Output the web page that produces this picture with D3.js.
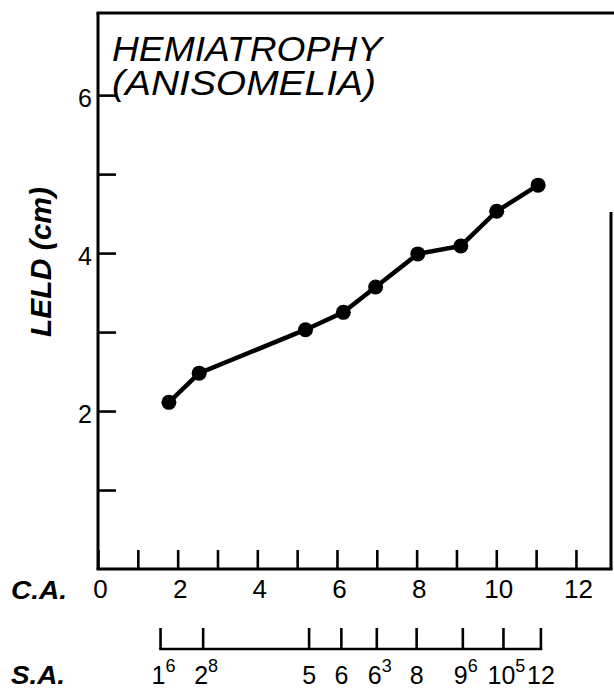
<!DOCTYPE html>
<html>
<head>
<meta charset="utf-8">
<script src="https://cdn.jsdelivr.net/npm/d3@7"></script>
<style>
  body { margin: 0; background: #fff; }
  svg { display: block; font-family: "Liberation Sans", Arial, sans-serif; }
</style>
</head>
<body>
<div id="container"></div>
<script>
/* CONSTANTS AND GLOBALS */
const width = 614,
  height = 691,
  margin = { top: 13, bottom: 122, left: 98, right: 3 };

// chronological age (C.A.) vs leg length discrepancy, one per visit
const caAge = [1.78, 2.54, 5.21, 6.16, 6.97, 8.03, 9.11, 10.01, 11.05];
const leld = [2.11, 2.48, 3.03, 3.25, 3.57, 3.99, 4.09, 4.53, 4.86];

// skeletal age (S.A.) scale: tick positions on the C.A. scale + labels (years, months as superscript)
const saPos = [1.57, 2.64, 5.30, 6.11, 7.00, 8.00, 9.16, 10.18, 11.12];
const saYears = ["1", "2", "5", "6", "6", "8", "9", "10", "12"];
const saMonths = ["6", "8", "", "", "3", "", "6", "5", ""];

// tick values
const caTicks = [0, 1, 2, 3, 4, 5, 6, 7, 8, 9, 10, 11, 12];
const yTicks = [1, 2, 3, 4, 5, 6];

// title lines
const titleLines = ["HEMIATROPHY", "(ANISOMELIA)"];

const xMax = 12.88, yMax = 7.04;

let xScale, yScale;

/* INITIALIZING FUNCTION */
function init() {
  xScale = d3.scaleLinear()
    .domain([0, xMax])
    .range([margin.left, width - margin.right]);

  yScale = d3.scaleLinear()
    .domain([0, yMax])
    .range([height - margin.bottom, margin.top]);

  draw();
}

/* DRAW FUNCTION */
function draw() {
  const svg = d3.select("#container")
    .append("svg")
    .attr("width", width)
    .attr("height", height);

  // frame: top edge and (partly cut) right edge
  svg.append("line")
    .attr("x1", xScale(0) - 1.5).attr("x2", width)
    .attr("y1", yScale(yMax)).attr("y2", yScale(yMax))
    .attr("stroke", "#000").attr("stroke-width", 3);
  svg.append("line")
    .attr("x1", xScale(xMax)).attr("x2", xScale(xMax))
    .attr("y1", yScale(4.52)).attr("y2", yScale(0))
    .attr("stroke", "#000").attr("stroke-width", 3);

  // x axis (C.A.)
  const xAxis = svg.append("g")
    .attr("transform", `translate(0,${yScale(0)})`)
    .call(d3.axisBottom(xScale)
      .tickValues(caTicks)
      .tickSize(-19)
      .tickPadding(11)
      .tickFormat(d => d % 2 === 0 ? d : ""));
  xAxis.select(".domain")
    .attr("d", `M${xScale(0) - 1.5},0H${xScale(xMax) + 1.5}`)
    .attr("stroke-width", 3);
  xAxis.selectAll(".tick line").attr("stroke-width", 2.6);
  xAxis.selectAll(".tick text")
    .attr("font-size", 26)
    .attr("font-family", "Liberation Sans, Arial, sans-serif")
    .attr("dx", 2)
    .attr("fill", "#000");

  // y axis
  const yAxis = svg.append("g")
    .attr("transform", `translate(${xScale(0)},0)`)
    .call(d3.axisLeft(yScale)
      .tickValues(yTicks)
      .tickSize(-18)
      .tickPadding(6)
      .tickFormat(d => d % 2 === 0 ? d : ""));
  yAxis.select(".domain")
    .attr("d", `M0,${yScale(yMax)}V${yScale(0)}`)
    .attr("stroke-width", 3);
  yAxis.selectAll(".tick line").attr("stroke-width", 2.6);
  yAxis.selectAll(".tick text")
    .attr("font-size", 25)
    .attr("font-family", "Liberation Sans, Arial, sans-serif")
    .attr("dy", "0.45em")
    .attr("fill", "#000");

  // S.A. scale underneath
  const saY = 649;
  const saData = saPos.map((d, i) => ({ pos: d, yr: saYears[i], mo: saMonths[i] }));
  svg.append("line")
    .attr("x1", xScale(saPos[0]) - 1.3).attr("x2", xScale(saPos[saPos.length - 1]) + 1.3)
    .attr("y1", saY).attr("y2", saY)
    .attr("stroke", "#000").attr("stroke-width", 2.6);
  svg.selectAll(".sa-tick")
    .data(saData)
    .join("line")
    .attr("class", "sa-tick")
    .attr("x1", d => xScale(d.pos)).attr("x2", d => xScale(d.pos))
    .attr("y1", saY).attr("y2", saY - 21)
    .attr("stroke", "#000").attr("stroke-width", 2.6);
  const saLab = svg.selectAll(".sa-label")
    .data(saData)
    .join("text")
    .attr("class", "sa-label")
    .attr("x", d => xScale(d.pos) + (d.mo ? 3 : 0))
    .attr("y", 684)
    .attr("text-anchor", "middle")
    .attr("font-size", 25);
  saLab.append("tspan").text(d => d.yr);
  saLab.filter(d => d.mo !== "")
    .append("tspan")
    .attr("dy", -12)
    .attr("font-size", 18)
    .text(d => d.mo);

  // row labels
  svg.append("text")
    .attr("x", 11).attr("y", 599)
    .attr("font-size", 26).attr("font-weight", "bold").attr("font-style", "italic")
    .attr("textLength", 56).attr("lengthAdjust", "spacingAndGlyphs")
    .text("C.A.");
  svg.append("text")
    .attr("x", 11).attr("y", 684)
    .attr("font-size", 25).attr("font-weight", "bold").attr("font-style", "italic")
    .attr("textLength", 54).attr("lengthAdjust", "spacingAndGlyphs")
    .text("S.A.");

  // y label
  svg.append("text")
    .attr("transform", "translate(51,262) rotate(-90)")
    .attr("text-anchor", "middle")
    .attr("font-size", 29).attr("font-weight", "bold").attr("font-style", "italic")
    .attr("textLength", 150).attr("lengthAdjust", "spacingAndGlyphs")
    .text("LELD (cm)");

  // title, two lines in one text block
  const title = svg.append("text")
    .attr("font-size", 35).attr("font-style", "italic");
  title.selectAll("tspan")
    .data(titleLines)
    .join("tspan")
    .attr("x", 112)
    .attr("y", (d, i) => 61 + i * 34)
    .attr("textLength", (d, i) => i === 0 ? 270 : 264)
    .attr("lengthAdjust", "spacingAndGlyphs")
    .text(d => d);

  // line + points
  const points = caAge.map((d, i) => ({ ca: d, leld: leld[i] }));
  const line = d3.line()
    .x(d => xScale(d.ca))
    .y(d => yScale(d.leld));
  svg.append("path")
    .datum(points)
    .attr("d", line)
    .attr("fill", "none")
    .attr("stroke", "#000")
    .attr("stroke-width", 4.5);
  svg.selectAll("circle")
    .data(points)
    .join("circle")
    .attr("cx", d => xScale(d.ca))
    .attr("cy", d => yScale(d.leld))
    .attr("r", 7.5)
    .attr("fill", "#000");
}

init();
</script>
</body>
</html>
